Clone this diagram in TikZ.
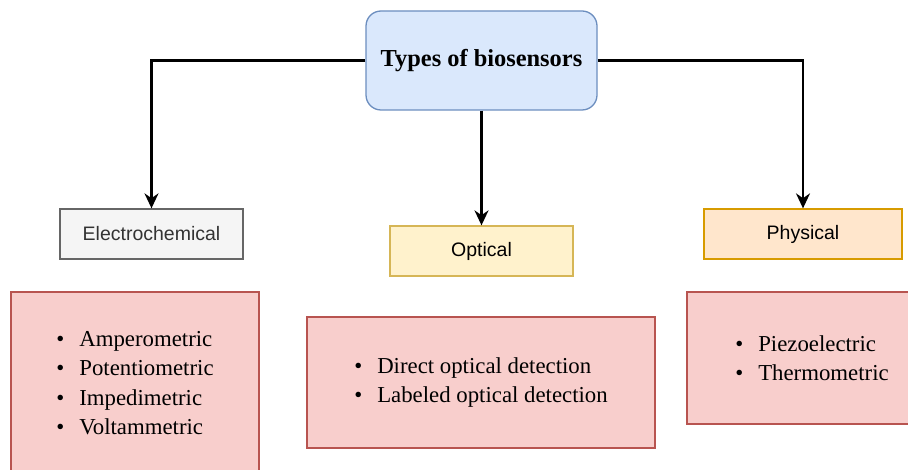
\documentclass[tikz,border=0pt]{standalone}
\usepackage{fontspec}
\setmainfont{Liberation Serif}
\setsansfont{Liberation Sans}
\usetikzlibrary{positioning,arrows.meta}
\definecolor{topfill}{HTML}{DAE8FC}
\definecolor{topdraw}{HTML}{6C8EBF}
\definecolor{greyfill}{HTML}{F5F5F5}
\definecolor{greydraw}{HTML}{666666}
\definecolor{greytext}{HTML}{333333}
\definecolor{yelfill}{HTML}{FFF2CC}
\definecolor{yeldraw}{HTML}{D6B656}
\definecolor{orgfill}{HTML}{FFE6CC}
\definecolor{orgdraw}{HTML}{D79B00}
\definecolor{redfill}{HTML}{F8CECC}
\definecolor{reddraw}{HTML}{B85450}
\tikzstyle{root}=[rectangle, rounded corners=15pt, draw=topdraw, fill=topfill, line width=1.3pt, minimum width=231pt, minimum height=99pt, font=\fontsize{24.4}{28}\selectfont\bfseries]
\tikzstyle{kind}=[rectangle, line width=1.3pt, minimum width=183pt, minimum height=50pt, font=\sffamily\fontsize{19.5}{23}\selectfont]
\tikzstyle{list}=[rectangle, draw=reddraw, fill=redfill, line width=1.3pt, align=left, font=\fontsize{22.8}{29.5}\selectfont]
\tikzstyle{connector}=[draw, line width=2.1pt, -{Stealth[length=15pt,width=14pt]}]
\newcommand{\itm}[1]{\makebox[23pt][l]{\textbullet}#1}

\begin{document}
\begin{tikzpicture}[x=1pt,y=-1pt]
	\useasboundingbox (0,0) rectangle (908,470);
	\clip (0,0) rectangle (908,470);
	\node[root] (types) at (481.5,60.5) {Types of biosensors};
	\node[kind, draw=greydraw, fill=greyfill, text=greytext] (electro) at (151.5,234) {Electrochemical};
	\node[kind, draw=yeldraw, fill=yelfill] (optical) at (481.5,251) {Optical};
	\node[kind, draw=orgdraw, fill=orgfill, minimum width=198pt] (physical) at (803,234) {Physical};
	\node[list, minimum width=248pt, minimum height=182pt] (electrolist) at (135,383) {\itm{Amperometric}\\\itm{Potentiometric}\\\itm{Impedimetric}\\\itm{Voltammetric}};
	\node[list, minimum width=348pt, minimum height=131pt] (opticallist) at (481,382.5) {\itm{Direct optical detection}\\\itm{Labeled optical detection}};
	\node[list, minimum width=250pt, minimum height=132pt] (physicallist) at (812,358) {\itm{Piezoelectric}\\\itm{Thermometric}};
	\draw[connector] (types.west) -| (electro.north);
	\draw[connector] (types) -- (optical);
	\draw[connector] (types.east) -| (physical.north);
\end{tikzpicture}
\end{document}
